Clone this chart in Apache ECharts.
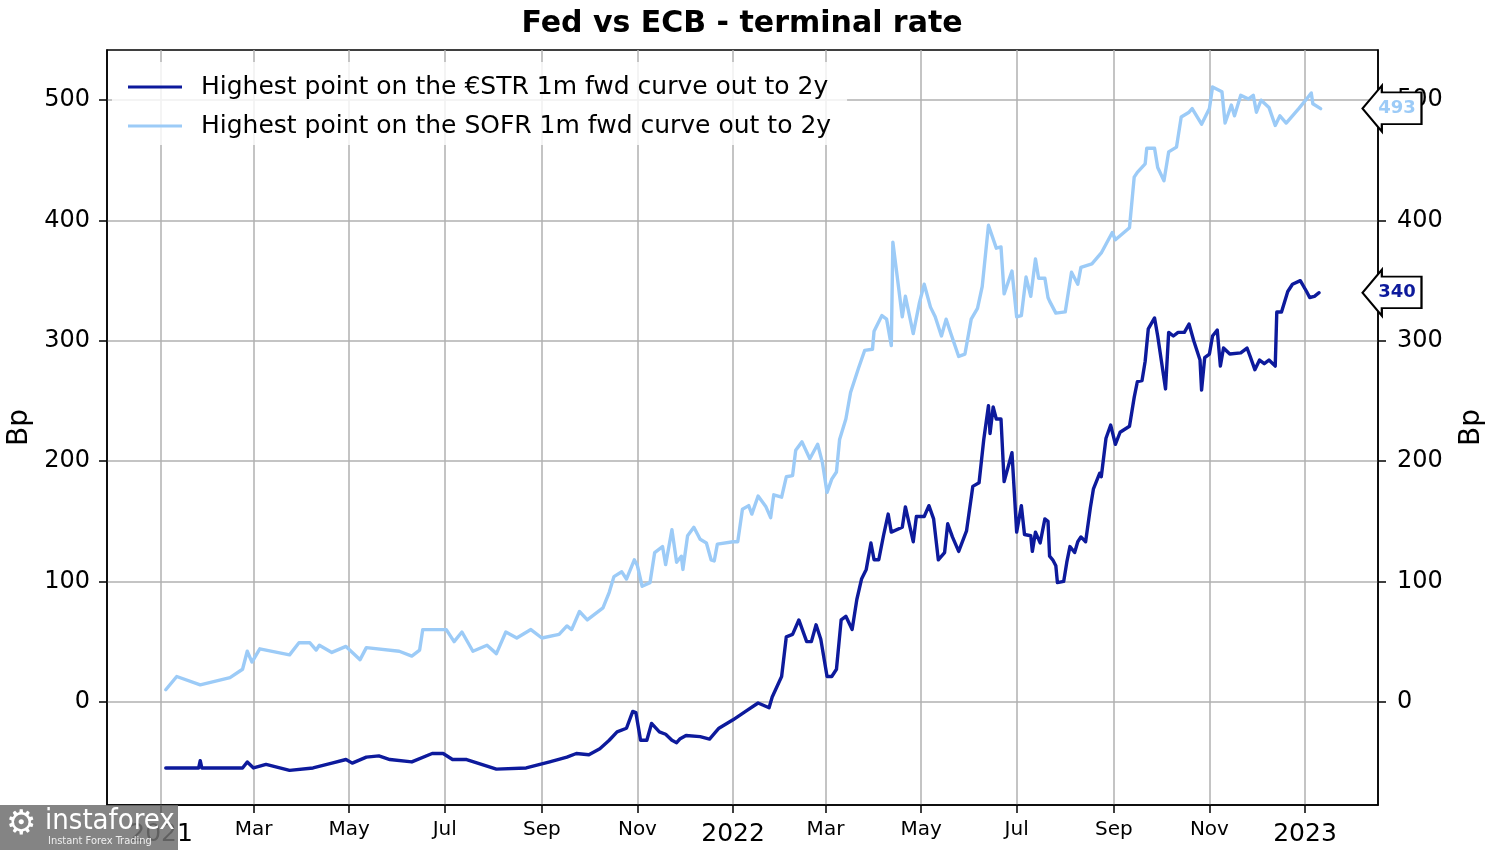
<!DOCTYPE html>
<html>
<head>
<meta charset="utf-8">
<script src="https://cdn.jsdelivr.net/npm/echarts@6/dist/echarts.min.js"></script>
<style>
html,body{margin:0;padding:0;background:#fff;}
#chart{width:1500px;height:850px;}
</style>
</head>
<body>
<div id="chart"></div>
<script>
// ---------------- DATA ----------------
const seriesNames = [
  'Highest point on the €STR 1m fwd curve out to 2y',
  'Highest point on the SOFR 1m fwd curve out to 2y'
];

const estrDates = [
  '2021-01-04','2021-01-25','2021-01-26','2021-01-27','2021-02-22','2021-02-25','2021-03-01','2021-03-09',
  '2021-03-24','2021-04-08','2021-04-20','2021-04-29','2021-05-03','2021-05-12','2021-05-20','2021-05-27',
  '2021-06-10','2021-06-23','2021-06-30','2021-07-06','2021-07-15','2021-08-03','2021-08-22','2021-09-06',
  '2021-09-17','2021-09-23','2021-10-01','2021-10-08','2021-10-14','2021-10-19','2021-10-25','2021-10-29',
  '2021-10-31','2021-11-03','2021-11-07','2021-11-10','2021-11-15','2021-11-19','2021-11-23','2021-11-26',
  '2021-11-28','2021-12-02','2021-12-11','2021-12-17','2021-12-23','2022-01-01','2022-01-09','2022-01-17',
  '2022-01-24','2022-01-26','2022-02-01','2022-02-04','2022-02-08','2022-02-12','2022-02-17','2022-02-20',
  '2022-02-23','2022-02-26','2022-03-02','2022-03-05','2022-03-08','2022-03-11','2022-03-14','2022-03-18',
  '2022-03-21','2022-03-24','2022-03-27','2022-03-30','2022-04-01','2022-04-04','2022-04-07','2022-04-10',
  '2022-04-12','2022-04-19','2022-04-21','2022-04-26','2022-04-28','2022-05-03','2022-05-06','2022-05-09',
  '2022-05-12','2022-05-16','2022-05-18','2022-05-21','2022-05-25','2022-05-30','2022-06-03','2022-06-07',
  '2022-06-10','2022-06-13','2022-06-14','2022-06-16','2022-06-18','2022-06-21','2022-06-23','2022-06-28',
  '2022-07-01','2022-07-04','2022-07-06','2022-07-10','2022-07-11','2022-07-13','2022-07-16','2022-07-19',
  '2022-07-21','2022-07-22','2022-07-24','2022-07-26','2022-07-27','2022-07-31','2022-08-02','2022-08-04',
  '2022-08-07','2022-08-09','2022-08-11','2022-08-14','2022-08-17','2022-08-19','2022-08-23','2022-08-24',
  '2022-08-27','2022-08-30','2022-09-02','2022-09-05','2022-09-11','2022-09-14','2022-09-16','2022-09-19',
  '2022-09-21','2022-09-23','2022-09-27','2022-09-29','2022-10-04','2022-10-06','2022-10-09','2022-10-12',
  '2022-10-16','2022-10-19','2022-10-22','2022-10-26','2022-10-27','2022-10-29','2022-11-01','2022-11-03',
  '2022-11-06','2022-11-08','2022-11-10','2022-11-14','2022-11-21','2022-11-25','2022-11-27','2022-11-30',
  '2022-12-03','2022-12-06','2022-12-09','2022-12-13','2022-12-14','2022-12-17','2022-12-21','2022-12-24',
  '2022-12-29','2023-01-02','2023-01-04','2023-01-07','2023-01-10'
];
const estrValues = [
  -55,-55,-49,-55,-55,-50,-55,-52,
  -57,-55,-51,-48,-51,-46,-45,-48,
  -50,-43,-43,-48,-48,-56,-55,-50,
  -46,-43,-44,-39,-32,-25,-22,-8,
  -9,-32,-32,-18,-25,-27,-32,-34,
  -31,-28,-29,-31,-22,-15,-8,-1,
  -5,4,21,54,56,68,50,50,
  64,52,21,21,27,68,71,60,
  85,102,110,132,118,118,138,156,
  141,145,162,133,154,154,163,152,
  118,124,148,137,125,142,179,182,
  218,246,223,245,235,235,183,207,
  141,163,139,138,125,141,132,152,
  150,121,118,113,99,100,116,129,
  124,133,137,133,161,177,190,187,
  219,230,214,224,229,253,266,267,
  283,310,319,304,260,307,304,307,
  307,314,300,284,259,286,289,304,
  309,279,294,289,290,294,287,276,
  284,281,284,279,324,324,341,347,
  350,341,336,337,340
];

const sofrDates = [
  '2021-01-04','2021-01-11','2021-01-26','2021-02-14','2021-02-22','2021-02-25','2021-02-28','2021-03-05',
  '2021-03-24','2021-03-30','2021-04-06','2021-04-10','2021-04-12','2021-04-20','2021-04-29','2021-05-08',
  '2021-05-12','2021-06-02','2021-06-10','2021-06-15','2021-06-17','2021-07-02','2021-07-07','2021-07-12',
  '2021-07-19','2021-07-28','2021-08-03','2021-08-05','2021-08-09','2021-08-16','2021-08-25','2021-09-01',
  '2021-09-12','2021-09-17','2021-09-20','2021-09-25','2021-09-30','2021-10-10','2021-10-14','2021-10-17',
  '2021-10-22','2021-10-25','2021-10-30','2021-11-01','2021-11-04','2021-11-09','2021-11-12','2021-11-17',
  '2021-11-19','2021-11-23','2021-11-26','2021-11-29','2021-11-30','2021-12-03','2021-12-07','2021-12-11',
  '2021-12-15','2021-12-18','2021-12-20','2021-12-22','2022-01-01','2022-01-04','2022-01-07','2022-01-11',
  '2022-01-13','2022-01-17','2022-01-22','2022-01-25','2022-01-27','2022-02-01','2022-02-04','2022-02-08',
  '2022-02-10','2022-02-14','2022-02-19','2022-02-24','2022-02-27','2022-03-02','2022-03-05','2022-03-08',
  '2022-03-10','2022-03-14','2022-03-17','2022-03-22','2022-03-26','2022-03-31','2022-04-01','2022-04-06',
  '2022-04-09','2022-04-12','2022-04-13','2022-04-19','2022-04-21','2022-04-26','2022-04-30','2022-05-03',
  '2022-05-07','2022-05-10','2022-05-14','2022-05-17','2022-05-20','2022-05-25','2022-05-29','2022-06-02',
  '2022-06-06','2022-06-09','2022-06-13','2022-06-18','2022-06-21','2022-06-23','2022-06-28','2022-07-01',
  '2022-07-04','2022-07-07','2022-07-10','2022-07-13','2022-07-15','2022-07-19','2022-07-21','2022-07-22',
  '2022-07-26','2022-08-01','2022-08-05','2022-08-09','2022-08-11','2022-08-18','2022-08-24','2022-08-31',
  '2022-09-02','2022-09-11','2022-09-14','2022-09-16','2022-09-21','2022-09-22','2022-09-27','2022-09-29',
  '2022-10-03','2022-10-06','2022-10-11','2022-10-14','2022-10-19','2022-10-21','2022-10-27','2022-11-01',
  '2022-11-03','2022-11-09','2022-11-11','2022-11-15','2022-11-17','2022-11-21','2022-11-26','2022-11-29',
  '2022-12-01','2022-12-04','2022-12-09','2022-12-13','2022-12-16','2022-12-20','2022-12-28','2023-01-02',
  '2023-01-05','2023-01-06','2023-01-11'
];
const sofrValues = [
  10,21,14,20,27,42,33,44,
  39,49,49,43,47,41,46,35,
  45,42,38,43,60,60,50,58,
  42,47,40,46,58,53,60,53,
  56,63,60,75,68,78,91,104,
  108,102,118,113,96,99,124,129,
  114,143,116,121,110,138,145,135,
  132,118,117,131,133,133,160,163,
  156,171,162,153,172,170,187,188,
  209,216,202,214,199,174,185,191,
  218,235,257,277,292,293,308,321,
  318,296,382,320,337,306,332,347,
  328,320,304,318,306,287,289,318,
  327,345,396,377,378,339,358,320,
  321,353,337,368,352,352,336,333,
  323,324,357,347,361,364,373,390,
  384,394,436,440,447,460,460,444,
  433,457,461,486,490,493,480,493,
  511,507,481,496,487,504,501,504,
  490,500,494,479,487,481,493,501,
  506,497,493
];

const xTickDates = [
  '2021-01-01','2021-03-01','2021-05-01','2021-07-01','2021-09-01','2021-11-01',
  '2022-01-01','2022-03-01','2022-05-01','2022-07-01','2022-09-01','2022-11-01',
  '2023-01-01'
];
const monthNames = ['Jan','Feb','Mar','Apr','May','Jun','Jul','Aug','Sep','Oct','Nov','Dec'];
const yTickValues = [0, 100, 200, 300, 400, 500];
const xRange = ['2020-11-27 12:00', '2023-02-16 14:00'];
const yRange = [-85.8, 541.7];
const seriesColors = ['#0d1a9c', '#9ccbf7'];

// ---------------- CHART ----------------
const FONT = 'DejaVu Sans';
const toTs = s => +echarts.time.parse(s);
const xTicks = xTickDates.map(toTs);
const arrowPath = 'path://M0,22.5 L19,0 L19,6.7 L58,6.7 L58,37.7 L19,37.7 L19,45 Z';

function pairs(dates, vals) { return dates.map((d, i) => [toTs(d), vals[i]]); }

function makeSeries(idx, dates, vals) {
  const last = vals[vals.length - 1];
  return {
    name: seriesNames[idx],
    type: 'line',
    symbol: 'none',
    data: pairs(dates, vals),
    color: seriesColors[idx],
    lineStyle: { width: 3.4, color: seriesColors[idx], join: 'round', cap: 'round' },
    animation: false,
    markPoint: {
      symbol: arrowPath,
      symbolSize: [59, 46],
      symbolKeepAspect: false,
      symbolOffset: [14, 0],
      itemStyle: { color: '#ffffff', borderColor: '#000', borderWidth: 2 },
      label: {
        show: true, formatter: String(last), color: seriesColors[idx],
        fontWeight: 'bold', fontSize: 18, fontFamily: FONT, offset: [5, 0]
      },
      data: [{ coord: [toTs(xRange[1]), last] }],
      z: 20
    }
  };
}

const yAxisBase = (pos) => ({
  type: 'value',
  position: pos,
  min: yRange[0],
  max: yRange[1],
  name: 'Bp',
  nameLocation: 'middle',
  nameRotate: 90,
  nameGap: pos === 'left' ? 72 : 80,
  nameTextStyle: { fontSize: 28, color: '#000', fontFamily: FONT },
  axisLine: { show: true, lineStyle: { color: '#000', width: 1.5 } },
  axisTick: { show: true, length: 8, lineStyle: { color: '#000', width: 1.5 }, customValues: yTickValues },
  axisLabel: { customValues: yTickValues, fontSize: 24, color: '#000', fontFamily: FONT, margin: pos === 'left' ? 17 : 19 },
  splitLine: { show: pos === 'left', lineStyle: { color: '#b0b0b0', width: 1.5 } }
});

const WM_FONT = "'Liberation Sans Narrow', 'DejaVu Sans Condensed', 'DejaVu Sans', sans-serif";

const chart = echarts.init(document.getElementById('chart'), null, { renderer: 'canvas' });
chart.setOption({
  backgroundColor: '#ffffff',
  animation: false,
  textStyle: { fontFamily: FONT },
  grid: {
    left: 107, right: 122, top: 50, bottom: 45,
    outerBoundsMode: 'none',
    containLabel: false,
    show: true, borderColor: '#000', borderWidth: 1.5, backgroundColor: 'transparent'
  },
  legend: {
    data: seriesNames,
    left: 112, top: 62,
    orient: 'vertical',
    icon: 'rect',
    itemWidth: 54, itemHeight: 3, itemGap: 11,
    backgroundColor: 'rgba(255,255,255,0.82)',
    padding: [11, 16, 5, 16],
    textStyle: { fontSize: 25, color: '#000', fontFamily: FONT, lineHeight: 28, padding: [0, 0, 0, 14] }
  },
  xAxis: {
    type: 'value',
    min: toTs(xRange[0]),
    max: toTs(xRange[1]),
    axisLine: { show: true, onZero: false, lineStyle: { color: '#000', width: 1.5 } },
    axisTick: { show: true, length: 8, lineStyle: { color: '#000', width: 1.5 }, customValues: xTicks },
    axisLabel: {
      customValues: xTicks,
      margin: 15,
      color: '#000',
      fontFamily: FONT,
      formatter: function (val) {
        const d = new Date(val);
        if (d.getMonth() === 0) return '{y|' + d.getFullYear() + '}';
        return '{m|' + monthNames[d.getMonth()] + '}';
      },
      rich: {
        y: { fontSize: 25, color: '#000', fontFamily: FONT, padding: [2, 0, 0, 0] },
        m: { fontSize: 20, color: '#000', fontFamily: FONT }
      }
    },
    splitLine: { show: true, lineStyle: { color: '#b0b0b0', width: 1.5 } }
  },
  yAxis: [yAxisBase('left'), yAxisBase('right')],
  series: [
    makeSeries(0, estrDates, estrValues),
    makeSeries(1, sofrDates, sofrValues)
  ],
  graphic: [
    {
      type: 'text', x: 742, y: 24, z: 50,
      style: { text: 'Fed vs ECB - terminal rate', fontSize: 30, fontWeight: 'bold', fill: '#000',
               fontFamily: FONT, textAlign: 'center', textVerticalAlign: 'middle' }
    },
    { type: 'rect', z: 100, shape: { x: 0, y: 805, width: 178, height: 45 }, style: { fill: 'rgba(112,112,112,0.86)' } },
    { type: 'text', z: 101, x: 6, y: 808, style: { text: '⚙', fontSize: 34, fill: '#fff', fontFamily: FONT } },
    { type: 'text', z: 101, x: 45, y: 807, style: { text: 'instaforex', fontSize: 29, fill: '#fff', fontFamily: WM_FONT } },
    { type: 'text', z: 101, x: 48, y: 836, style: { text: 'Instant Forex Trading', fontSize: 11, fill: '#eeeeee', fontFamily: WM_FONT } }
  ]
});
</script>
</body>
</html>
